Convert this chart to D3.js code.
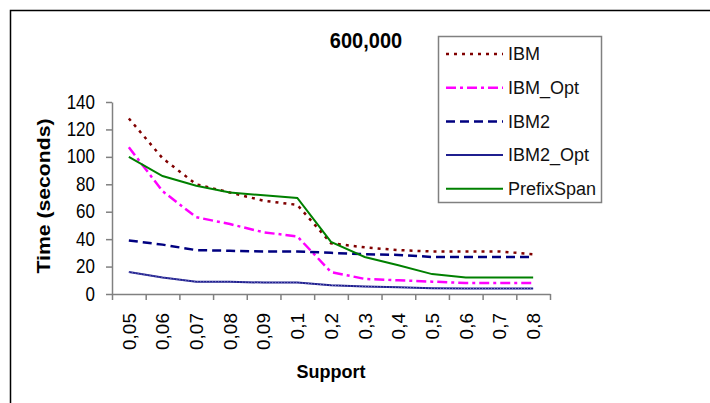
<!DOCTYPE html>
<html>
<head>
<meta charset="utf-8">
<script src="https://cdnjs.cloudflare.com/ajax/libs/d3/7.8.5/d3.min.js"></script>
<style>
	body { margin: 0; background: #fff; }
	svg { display: block; font-family: "Liberation Sans", Arial, sans-serif; }
</style>
</head>
<body>
<script>
const w = 710;
const h = 403;

const supports = ["0,05", "0,06", "0,07", "0,08", "0,09", "0,1", "0,2", "0,3", "0,4", "0,5", "0,6", "0,7", "0,8"];
const ibm = [128, 99, 80, 74, 68, 65, 37, 34, 32, 31, 31, 31, 29];
const ibmOpt = [107, 75, 56, 51, 45, 42, 16, 11, 10, 9, 8, 8, 8];
const ibm2 = [39, 36, 32, 31.5, 31, 31, 30, 29, 28.5, 27, 27, 27, 27];
const ibm2Opt = [16, 12, 9, 9, 8.3, 8.3, 6.3, 5.5, 4.9, 4.2, 4, 4, 4];
const prefixSpan = [100, 86, 79, 74, 72, 70, 38, 27, 21, 14.5, 12, 12, 12];
const yTicks = [0, 20, 40, 60, 80, 100, 120, 140];

const series = [
	{ name: "IBM", values: ibm, color: "#800000", width: 2.5, dash: "3,5" },
	{ name: "IBM_Opt", values: ibmOpt, color: "#ff00ff", width: 2.5, dash: "10,4,3,4" },
	{ name: "IBM2", values: ibm2, color: "#000080", width: 2.5, dash: "9,5" },
	{ name: "IBM2_Opt", values: ibm2Opt, color: "#1f1f8f", width: 2, dash: null },
	{ name: "PrefixSpan", values: prefixSpan, color: "#008000", width: 2, dash: null },
];

const svg = d3.select("body").append("svg").attr("width", w).attr("height", h);

// outer frame (runs off the right and bottom edges)
svg.append("rect")
	.attr("x", 10.5).attr("y", 10.5)
	.attr("width", 730).attr("height", 430)
	.attr("fill", "none").attr("stroke", "#000").attr("stroke-width", 1.5);

// * SCALES
const xScale = d3.scaleBand().domain(supports).range([112, 550]);
const xIndex = d3.scaleLinear().domain([0, supports.length]).range([112, 550]);
const yScale = d3.scaleLinear().domain([0, 140]).range([294, 102]);

// * Y AXIS
const yAxis = d3.axisLeft(yScale).tickValues(yTicks).tickSize(6).tickPadding(11).tickSizeOuter(0);
const gy = svg.append("g").attr("transform", "translate(112,0)").call(yAxis);
gy.selectAll("path, line").attr("stroke", "#808080").attr("stroke-width", 1.5);
gy.selectAll("text")
	.attr("font-size", 17).attr("fill", "#000")
	.attr("font-family", "Liberation Sans, Arial, sans-serif")
	.attr("transform", "scale(1,1.2)")
	.attr("dy", "0.3em");

// * X AXIS ticks at category boundaries
const xTickAxis = d3.axisBottom(xIndex).tickValues(d3.range(0, supports.length + 1)).tickFormat("").tickSize(6).tickSizeOuter(0);
const gx = svg.append("g").attr("transform", "translate(0,294)").call(xTickAxis);
gx.selectAll("path, line").attr("stroke", "#808080").attr("stroke-width", 1.5);

// * X AXIS labels
const xLabelAxis = d3.axisBottom(xScale).tickSize(0).tickSizeOuter(0);
const gxl = svg.append("g").attr("transform", "translate(0,294)").call(xLabelAxis);
gxl.select(".domain").remove();
gxl.selectAll("text")
	.attr("font-size", 19).attr("fill", "#000")
	.attr("font-family", "Liberation Sans, Arial, sans-serif")
	.attr("text-anchor", "end")
	.attr("transform", "translate(0,19) rotate(-90)")
	.attr("x", 0).attr("y", 0)
	.attr("dy", "0.36em");

// * AXIS TITLES
svg.append("text")
	.attr("x", 331).attr("y", 378)
	.attr("text-anchor", "middle")
	.attr("font-size", 18).attr("font-weight", "bold")
	.text("Support");

svg.append("text")
	.attr("transform", "translate(50,196) rotate(-90)")
	.attr("text-anchor", "middle")
	.attr("font-size", 18).attr("font-weight", "bold")
	.attr("textLength", 155).attr("lengthAdjust", "spacingAndGlyphs")
	.text("Time (seconds)");

svg.append("text")
	.attr("transform", "translate(366,48) scale(1,1.1)")
	.attr("text-anchor", "middle")
	.attr("font-size", 20).attr("font-weight", "bold")
	.text("600,000");

// * LINES
const line = d3.line()
	.x((d, i) => xScale(supports[i]) + xScale.bandwidth() / 2)
	.y((d) => yScale(d));

series.forEach((s) => {
	svg.append("path")
		.datum(s.values)
		.attr("d", line)
		.attr("fill", "none")
		.attr("stroke", s.color)
		.attr("stroke-width", s.width)
		.attr("stroke-dasharray", s.dash);
});

// light speckle on IBM2_Opt like the original pattern
svg.append("path")
	.datum(ibm2Opt)
	.attr("d", line)
	.attr("fill", "none")
	.attr("stroke", "#8f8fd0")
	.attr("stroke-width", 0.8)
	.attr("stroke-dasharray", "1,2");

// * LEGEND
const legend = svg.append("g");
legend.append("rect")
	.attr("x", 438.5).attr("y", 36.5)
	.attr("width", 163).attr("height", 166)
	.attr("fill", "#fff").attr("stroke", "#808080").attr("stroke-width", 1.5);

const rows = legend.selectAll(".row")
	.data(series)
	.enter()
	.append("g")
	.attr("class", "row")
	.attr("transform", (d, i) => "translate(0," + (54 + i * 33.7) + ")");

rows.append("line")
	.attr("x1", 446).attr("x2", 503)
	.attr("stroke", (d) => d.color)
	.attr("stroke-width", (d) => d.width)
	.attr("stroke-dasharray", (d) => d.dash);

rows.append("text")
	.attr("x", 508)
	.attr("dy", "0.35em")
	.attr("font-size", 18)
	.attr("fill", "#111")
	.text((d) => d.name);
</script>
</body>
</html>
